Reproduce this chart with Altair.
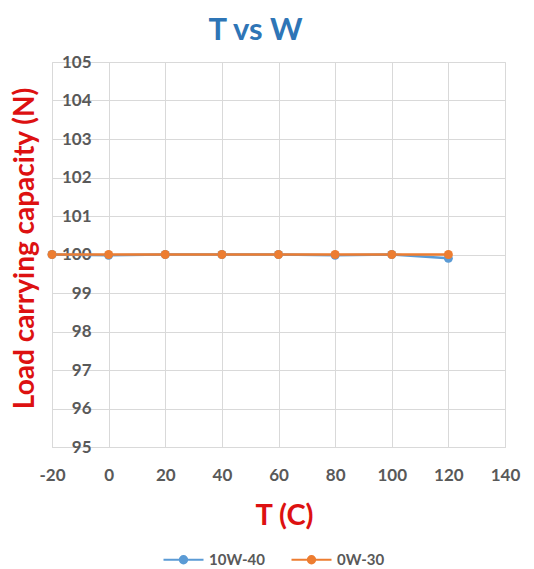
import altair as alt
import pandas as pd

temps = [-20, 0, 20, 40, 60, 80, 100, 120]
load_10w40 = [100, 99.98, 100, 100, 100, 99.98, 100, 99.9]
load_0w30 = [100, 100, 100, 100, 100, 100, 100, 100]
series = ["10W-40", "0W-30"]
colors = ["#5B9BD5", "#ED7D31"]
x_ticks = [-20, 0, 20, 40, 60, 80, 100, 120, 140]
y_ticks = [95, 96, 97, 98, 99, 100, 101, 102, 103, 104, 105]

rows = []
for t, v in zip(temps, load_10w40):
    rows.append({"T": t, "Load": v, "Oil": series[0]})
for t, v in zip(temps, load_0w30):
    rows.append({"T": t, "Load": v, "Oil": series[1]})
df = pd.DataFrame(rows)

font = "Lato"
legend_shape = "M-1,0H1M-0.18,0A0.18,0.18 0 1,0 0.18,0A0.18,0.18 0 1,0 -0.18,0"

chart = alt.Chart(df).mark_line(
    strokeWidth=2.5,
    point=alt.OverlayMarkDef(filled=True, size=80, opacity=1),
).encode(
    x=alt.X("T:Q",
            scale=alt.Scale(domain=[-20, 140], nice=False, zero=False),
            axis=alt.Axis(values=x_ticks, title="T (C)", ticks=False,
                          labelExpr="'' + datum.value", labelFlush=False,
                          labelPadding=20, labelFontSize=17, labelFont=font,
                          labelFontWeight="bold", labelColor="#595959",
                          domainColor="#D9D9D9", gridColor="#D9D9D9",
                          titleFont=font, titleFontSize=29, titleFontWeight="bold",
                          titleColor="#DD1111", titleX=232, titleY=68,
                          titleBaseline="middle", titleAlign="center")),
    y=alt.Y("Load:Q",
            scale=alt.Scale(domain=[95, 105], nice=False, zero=False),
            axis=alt.Axis(values=y_ticks, title="Load carrying capacity (N)",
                          offset=-56, domain=False, ticks=False, labelFlush=False,
                          labelPadding=17, labelFontSize=17, labelFont=font,
                          labelFontWeight="bold", labelColor="#595959",
                          gridColor="#D9D9D9",
                          titleFont=font, titleFontSize=28, titleFontWeight="bold",
                          titleColor="#DD1111", titleAngle=270, titleX=-83, titleY=186,
                          titleBaseline="middle", titleAlign="center")),
    color=alt.Color("Oil:N",
                    scale=alt.Scale(domain=series, range=colors),
                    sort=series,
                    legend=alt.Legend(title=None, orient="none", direction="horizontal",
                                      legendX=110, legendY=476,
                                      symbolType=legend_shape, symbolSize=1600,
                                      symbolStrokeWidth=2.2, columnPadding=22,
                                      labelFont=font, labelFontSize=15,
                                      labelFontWeight="bold", labelColor="#595959",
                                      labelOffset=4)),
    order=alt.Order("Oil:N", sort="descending"),
).properties(
    width=453,
    height=385,
    autosize=alt.AutoSizeParams(type="none"),
    padding={"left": 52, "top": 62, "right": 29, "bottom": 122},
    title=alt.TitleParams("T vs W", font=font, fontSize=31, fontWeight="bold",
                          color="#2E75B6", anchor="middle", offset=6, dx=-23),
).configure_view(stroke=None).configure(background="white")

chart.save("out.html", embed_options={"renderer": "svg", "actions": False})
